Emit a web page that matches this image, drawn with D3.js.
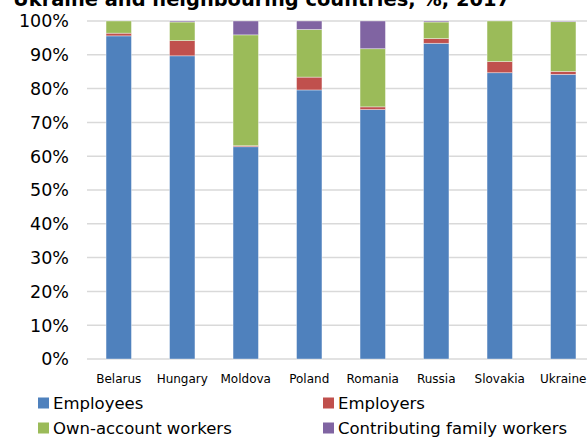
<!DOCTYPE html>
<html>
<head>
<meta charset="utf-8">
<script src="https://cdn.jsdelivr.net/npm/d3@7"></script>
<style>
  body { margin: 0; background: #fff; }
  svg { display: block; }
</style>
</head>
<body>
<script>
var svgWidth = 587;
var svgHeight = 438;

// data (% of total employment)
var countries = ["Belarus", "Hungary", "Moldova", "Poland", "Romania", "Russia", "Slovakia", "Ukraine"];
var employees = [95.6, 89.7, 62.8, 79.6, 73.8, 93.4, 84.7, 84.2];
var employers = [0.8, 4.5, 0.3, 3.8, 0.8, 1.4, 3.3, 0.9];
var ownAccount = [3.6, 5.5, 32.8, 14.1, 17.2, 4.9, 12.0, 14.7];
var familyWorkers = [0.0, 0.3, 4.1, 2.5, 8.2, 0.3, 0.0, 0.2];
var seriesNames = ["Employees", "Employers", "Own-account workers", "Contributing family workers"];
var colors = ["#4F81BD", "#C0504D", "#9BBB59", "#8064A2"];
var yTicks = [0, 10, 20, 30, 40, 50, 60, 70, 80, 90, 100];

var rows = countries.map(function(c, i) {
  return {
    country: c,
    "Employees": employees[i],
    "Employers": employers[i],
    "Own-account workers": ownAccount[i],
    "Contributing family workers": familyWorkers[i]
  };
});

var svg = d3.select("body")
  .append("svg")
  .attr("width", svgWidth)
  .attr("height", svgHeight);

// title, cut off at the top like the original
svg.append("text")
  .attr("x", 13)
  .attr("y", 6)
  .attr("textLength", 497)
  .attr("lengthAdjust", "spacingAndGlyphs")
  .style("font-family", "'DejaVu Sans', sans-serif")
  .style("font-weight", "bold")
  .style("font-size", "20px")
  .text("Ukraine and neighbouring countries, %, 2017");

var x = d3.scaleBand()
  .domain(countries)
  .range([87, 595])
  .paddingInner(0.6)
  .paddingOuter(0.3);

var y = d3.scaleLinear()
  .domain([0, 100])
  .range([359, 21]);

// gridlines
svg.append("g")
  .selectAll("line")
  .data(yTicks)
  .enter()
  .append("line")
  .attr("x1", 87)
  .attr("x2", svgWidth)
  .attr("y1", d => y(d))
  .attr("y2", d => y(d))
  .attr("stroke", "#D9D9D9")
  .attr("stroke-width", 1.5);

// y labels
svg.append("g")
  .selectAll("text")
  .data(yTicks)
  .enter()
  .append("text")
  .attr("x", 69)
  .attr("y", d => y(d))
  .attr("dy", "0.36em")
  .attr("text-anchor", "end")
  .style("font-family", "'DejaVu Sans', sans-serif")
  .style("font-size", "17.5px")
  .attr("fill", "#000")
  .text(d => d + "%");

var stacked = d3.stack().keys(seriesNames)(rows);

var layers = svg.append("g")
  .selectAll("g")
  .data(stacked)
  .enter()
  .append("g")
  .attr("fill", (d, i) => colors[i]);

layers.selectAll("rect")
  .data(d => d)
  .enter()
  .append("rect")
  .attr("x", d => x(d.data.country))
  .attr("width", x.bandwidth())
  .attr("y", d => y(d[1]))
  .attr("height", d => y(d[0]) - y(d[1]))
  .attr("stroke", "#fff")
  .attr("stroke-opacity", 0.5)
  .attr("stroke-width", 0.75);

// x labels
svg.append("g")
  .selectAll("text")
  .data(countries)
  .enter()
  .append("text")
  .attr("x", d => x(d) + x.bandwidth() / 2)
  .attr("y", 383)
  .attr("text-anchor", "middle")
  .style("font-family", "'DejaVu Sans', sans-serif")
  .style("font-size", "12px")
  .text(d => d);

// legend
var legendPos = [[38, 403], [323, 403], [38, 428], [323, 428]];
var legend = svg.append("g")
  .selectAll("g")
  .data(seriesNames)
  .enter()
  .append("g")
  .attr("transform", (d, i) => `translate(${legendPos[i][0]}, ${legendPos[i][1]})`);

legend.append("rect")
  .attr("x", 0)
  .attr("y", -5.5)
  .attr("width", 11)
  .attr("height", 11)
  .attr("fill", (d, i) => colors[i]);

legend.append("text")
  .attr("x", 15)
  .attr("y", 0)
  .attr("dy", "0.36em")
  .style("font-family", "'DejaVu Sans', sans-serif")
  .style("font-size", "16.5px")
  .text(d => d);
</script>
</body>
</html>
